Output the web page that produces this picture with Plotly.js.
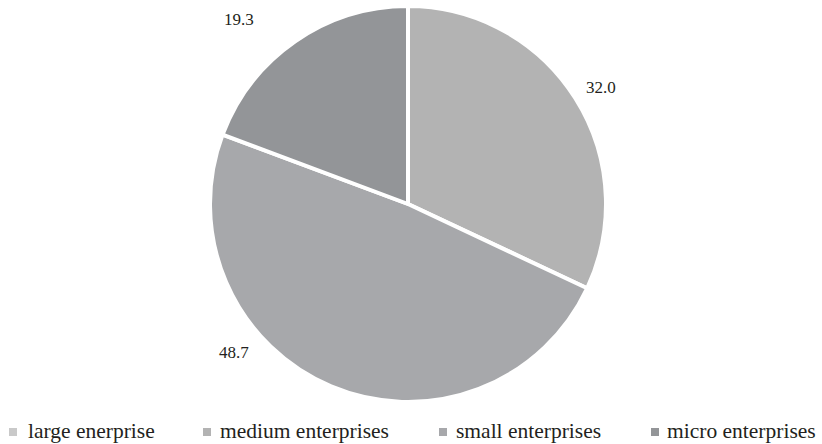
<!DOCTYPE html>
<html>
<head>
<meta charset="utf-8">
<script src="https://cdn.plot.ly/plotly-3.0.1.min.js"></script>
<style>html,body{margin:0;padding:0;background:#fff;}#chart{width:822px;height:444px;}</style>
</head>
<body>
<div id="chart"></div>
<script>
// ---- data ----
var categories = ["large enerprise", "medium enterprises", "small enterprises", "micro enterprises"];
var values = [0, 32.0, 48.7, 19.3];
var colors = ["#c9c9c9", "#b3b3b3", "#a7a8ab", "#939598"];

// ---- layout helpers (pixel -> paper) ----
var W = 822, H = 444;
var M = {l: 0, r: 6, t: 6, b: 42};
var PW = W - M.l - M.r, PH = H - M.t - M.b;
function px(x) { return (x - M.l) / PW; }
function py(y) { return 1 - (y - M.t) / PH; }

var FONT = "Liberation Serif";
var TEXTCOL = "#231f20";

// value label positions (layout only)
var labelPos = [null, [601, 87], [234, 352], [239, 19]];
// legend layout (layout only)
var legendSq = [9, 203, 439, 651];
var legendTx = [26, 218, 454, 665];
var legendY = 431;

var annotations = [];
var shapes = [];
for (var i = 0; i < categories.length; i++) {
  if (labelPos[i] && values[i] > 0) {
    annotations.push({
      xref: "paper", yref: "paper",
      x: px(labelPos[i][0]), y: py(labelPos[i][1]),
      xanchor: "center", yanchor: "middle",
      text: values[i].toFixed(1), showarrow: false,
      font: {family: FONT, size: 17, color: TEXTCOL}
    });
  }
  annotations.push({
    xref: "paper", yref: "paper",
    x: px(legendTx[i]), y: py(legendY),
    xanchor: "left", yanchor: "middle",
    text: categories[i], showarrow: false,
    font: {family: FONT, size: 21.5, color: TEXTCOL}
  });
  shapes.push({
    type: "rect", xref: "paper", yref: "paper",
    x0: px(legendSq[i]), x1: px(legendSq[i] + 8),
    y0: py(legendY - 3), y1: py(legendY + 5),
    fillcolor: colors[i], line: {width: 0}
  });
}

var trace = {
  type: "pie",
  labels: categories,
  values: values,
  sort: false,
  direction: "clockwise",
  rotation: 0,
  textinfo: "none",
  hoverinfo: "label+value",
  marker: {colors: colors, line: {color: "#ffffff", width: 4}},
  showlegend: false
};

var layout = {
  width: W, height: H,
  margin: M,
  paper_bgcolor: "#ffffff",
  plot_bgcolor: "#ffffff",
  showlegend: false,
  annotations: annotations,
  shapes: shapes,
  font: {family: FONT}
};

Plotly.newPlot("chart", [trace], layout, {displayModeBar: false, staticPlot: true});
</script>
</body>
</html>
